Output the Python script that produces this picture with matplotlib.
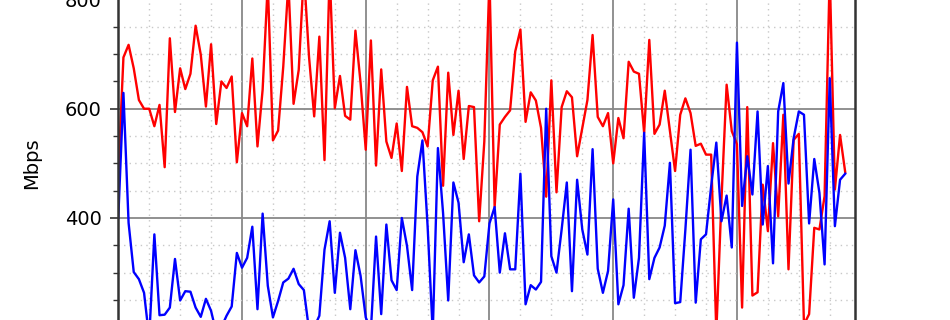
import numpy as np
import matplotlib
matplotlib.use('Agg')
import matplotlib.pyplot as plt
from matplotlib.ticker import MultipleLocator

# throughput samples every 10 min (Mbps)
red_mbps = [480, 694, 717, 674, 616, 600, 600, 568, 607, 493, 729, 594, 674, 636, 664, 752,
            699, 604, 718, 572, 650, 638, 659, 502, 592, 568, 692, 531, 635, 830, 542, 560,
            677, 830, 609, 671, 850, 695, 586, 732, 506, 850, 601, 660, 587, 580, 743, 647,
            525, 725, 496, 672, 540, 510, 573, 486, 640, 568, 565, 557, 531, 652, 677, 459,
            666, 552, 633, 508, 605, 603, 394, 540, 840, 420, 571, 585, 597, 705, 745, 576,
            630, 615, 565, 439, 652, 447, 603, 632, 621, 513, 565, 616, 735, 585, 568, 592,
            500, 583, 546, 686, 668, 664, 556, 726, 554, 571, 633, 560, 486, 589, 619, 592,
            532, 536, 516, 516, 190, 434, 644, 559, 535, 236, 603, 258, 264, 461, 376, 537,
            403, 589, 306, 543, 554, 205, 224, 382, 379, 440, 850, 452, 552, 484]
blue_mbps = [400, 629, 391, 301, 288, 263, 180, 370, 222, 223, 236, 325, 249, 266, 265, 236,
             219, 252, 230, 190, 200, 221, 238, 336, 309, 327, 384, 233, 408, 276, 218, 248,
             282, 289, 307, 279, 268, 195, 200, 221, 342, 394, 263, 373, 327, 233, 341, 294,
             218, 195, 366, 224, 388, 286, 268, 400, 349, 268, 476, 542, 385, 190, 528, 409,
             249, 465, 428, 319, 370, 295, 282, 293, 390, 420, 300, 372, 306, 306, 481, 242,
             277, 269, 283, 600, 330, 300, 379, 465, 266, 470, 379, 333, 526, 307, 263, 303,
             434, 242, 277, 417, 254, 327, 556, 288, 327, 346, 386, 501, 244, 246, 379, 525,
             245, 361, 370, 458, 538, 394, 441, 346, 721, 422, 513, 443, 595, 388, 495, 317,
             595, 647, 463, 546, 595, 589, 390, 508, 446, 315, 656, 385, 470, 481]

hours = np.arange(len(red_mbps)) / 6.0

fig = plt.figure(figsize=(9.5, 3.2), dpi=100)
# axes is taller than the picture: only the middle part is visible
ax = fig.add_axes([0.1245, -0.364, 0.7755, 1.707])

ax.plot(hours, red_mbps, color='#ff0000', lw=1.7)
ax.plot(hours, blue_mbps, color='#0000ff', lw=1.7)

ax.set_xlim(0, 142.9 / 6)
ax.set_ylim(0, 1000)
ax.xaxis.set_major_locator(MultipleLocator(4))
ax.xaxis.set_minor_locator(MultipleLocator(1))
ax.yaxis.set_major_locator(MultipleLocator(200))
ax.yaxis.set_minor_locator(MultipleLocator(50))
ax.grid(which='major', color='#888888', lw=1.3, ls='-')
ax.grid(which='minor', color='#c8c8c8', lw=1.0, ls=(0, (1, 3)))
ax.set_axisbelow(True)

for s in ax.spines.values():
    s.set_color('#333333')
    s.set_linewidth(1.8)

ax.tick_params(which='major', length=6, width=1.2, colors='#333333', labelcolor='black',
               labelsize=14, pad=6)
ax.tick_params(which='minor', length=3.5, width=1.0, colors='#333333')
ax.set_ylabel('Mbps', fontsize=14, labelpad=8)

fig.savefig('out.png', dpi=100)
